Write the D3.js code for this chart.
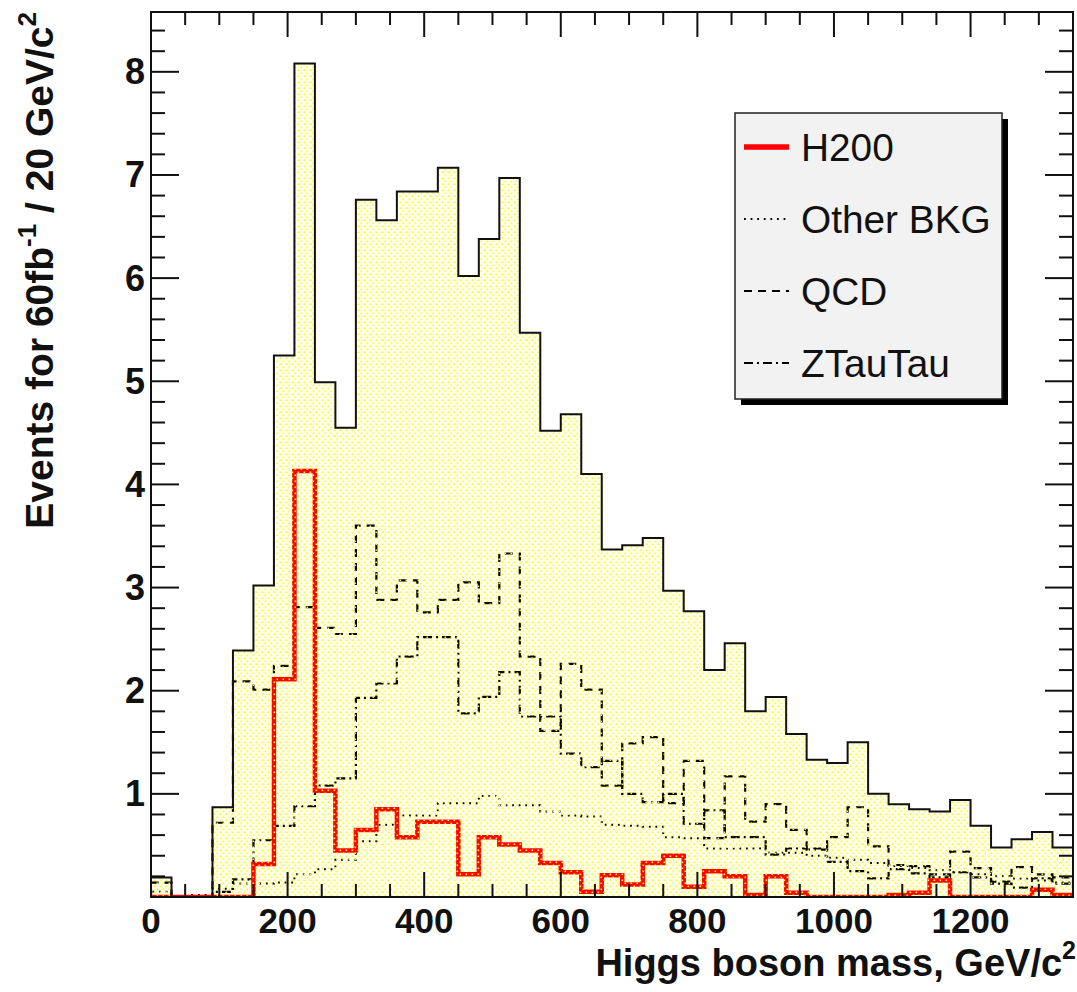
<!DOCTYPE html>
<html>
<head>
<meta charset="utf-8">
<script src="https://cdn.jsdelivr.net/npm/d3@7"></script>
<style>
  html, body { margin: 0; padding: 0; background: #ffffff; }
  svg { display: block; }
</style>
</head>
<body>
<svg id="chart" width="1077" height="992"></svg>
<script>
// Histogram binning (GeV/c^2)
const binLow = 0;
const binWidth = 30;
const nBins = 45;

// Bin contents, events per bin for 60 fb^-1
const total = [0.19, 0, 0, 0.87, 2.39, 3.02, 5.25, 8.08, 4.99, 4.55,
               6.76, 6.56, 6.84, 6.84, 7.07, 6.02, 6.38, 6.97, 5.47, 4.52,
               4.68, 4.10, 3.37, 3.41, 3.48, 2.97, 2.77, 2.20, 2.46, 1.80,
               1.94, 1.58, 1.33, 1.30, 1.50, 1.00, 0.90, 0.85, 0.83, 0.94,
               0.69, 0.48, 0.56, 0.63, 0.48];

const h200 = [0, 0, 0, 0, 0, 0.32, 2.11, 4.13, 1.03, 0.45,
              0.65, 0.85, 0.58, 0.73, 0.73, 0.22, 0.58, 0.51, 0.45, 0.33,
              0.24, 0.05, 0.21, 0.12, 0.33, 0.40, 0.10, 0.25, 0.20, 0.02,
              0.20, 0.04, 0, 0, 0, 0, 0.02, 0.04, 0.16, 0,
              0, 0, 0, 0.07, 0.02];

const otherBkg = [0.05, 0, 0.02, 0.08, 0.13, 0.13, 0.14, 0.22, 0.27, 0.36,
                  0.54, 0.70, 0.79, 0.79, 0.91, 0.91, 0.98, 0.89, 0.89, 0.83,
                  0.79, 0.78, 0.70, 0.69, 0.68, 0.58, 0.57, 0.47, 0.47, 0.47,
                  0.43, 0.43, 0.40, 0.38, 0.36, 0.33, 0.30, 0.28, 0.26, 0.24,
                  0.22, 0.20, 0.18, 0.16, 0.14];

const qcd = [0.14, 0, 0, 0.72, 2.09, 2.01, 2.24, 2.81, 2.61, 2.55,
             3.60, 2.88, 3.07, 2.76, 2.88, 3.05, 2.85, 3.33, 2.33, 1.61,
             2.26, 2.01, 1.08, 1.49, 1.55, 0.91, 1.32, 0.57, 1.17, 0.73,
             0.90, 0.65, 0.47, 0.58, 0.87, 0.49, 0.31, 0.30, 0.22, 0.44,
             0.28, 0.15, 0.29, 0.22, 0.19];

const ztautau = [0, 0, 0, 0.05, 0.17, 0.55, 0.69, 0.88, 1.08, 1.15,
                 1.93, 2.07, 2.33, 2.52, 2.52, 1.78, 1.94, 2.18, 1.75, 1.75,
                 1.39, 1.26, 1.32, 1.00, 0.92, 1.00, 0.71, 0.84, 0.58, 0.58,
                 0.41, 0.47, 0.46, 0.34, 0.25, 0.18, 0.27, 0.23, 0.19, 0.24,
                 0.19, 0.13, 0.09, 0.18, 0.13];

// Axis ticks and labels
const xMajorTicks = [0, 200, 400, 600, 800, 1000, 1200];
const xMinorStep = 50;
const yMajorTicks = [0, 1, 2, 3, 4, 5, 6, 7, 8];
const yMinorStep = 0.2;
const xDomain = [0, 1350];
const yDomain = [0, 8.58];

const legendEntries = [
  { label: "H200", key: "h200" },
  { label: "Other BKG", key: "other" },
  { label: "QCD", key: "qcd" },
  { label: "ZTauTau", key: "ztt" }
];

// Frame geometry
const frame = { left: 151, right: 1073, top: 12, bottom: 897 };

const svg = d3.select("#chart");
const x = d3.scaleLinear().domain(xDomain).range([frame.left, frame.right]);
const y = d3.scaleLinear().domain(yDomain).range([frame.bottom, frame.top]);

const styles = {
  h200:  { stroke: "#ff0000", width: 4.5, dash: null },
  other: { stroke: "#000000", width: 2, dash: "1.8,4.8" },
  qcd:   { stroke: "#000000", width: 2.2, dash: "8,6" },
  ztt:   { stroke: "#000000", width: 2.2, dash: "9,4,2,4" }
};

// Dotted yellow fill pattern
const defs = svg.append("defs");
const pat = defs.append("pattern")
  .attr("id", "dots")
  .attr("patternUnits", "userSpaceOnUse")
  .attr("width", 6).attr("height", 6);
pat.append("rect").attr("x", 0.5).attr("y", 0.5).attr("width", 1.6).attr("height", 1.6).attr("fill", "#ffff00");
pat.append("rect").attr("x", 3.5).attr("y", 3.5).attr("width", 1.6).attr("height", 1.6).attr("fill", "#ffff00");

defs.append("clipPath").attr("id", "plotClip")
  .append("rect")
  .attr("x", frame.left).attr("y", frame.top)
  .attr("width", frame.right - frame.left).attr("height", frame.bottom - frame.top);

// Histogram step points: rise from baseline, one point per bin, back to baseline
function stepPoints(values) {
  const pts = [{ x: binLow, v: 0 }];
  values.forEach((v, i) => pts.push({ x: binLow + i * binWidth, v: v }));
  pts.push({ x: binLow + nBins * binWidth, v: 0 });
  return pts;
}

const line = d3.line()
  .x(d => x(d.x)).y(d => y(d.v))
  .curve(d3.curveStepAfter);

const area = d3.area()
  .x(d => x(d.x)).y0(y(0)).y1(d => y(d.v))
  .curve(d3.curveStepAfter);

const plot = svg.append("g").attr("clip-path", "url(#plotClip)");

// Light background of the filled total
plot.append("path")
  .datum(stepPoints(total))
  .attr("d", area)
  .attr("fill", "#fffff2");

function drawHist(values, st) {
  plot.append("path")
    .datum(stepPoints(values))
    .attr("d", line)
    .attr("fill", "none")
    .attr("stroke", st.stroke)
    .attr("stroke-width", st.width)
    .attr("stroke-dasharray", st.dash)
    .attr("stroke-linejoin", "miter")
    .attr("stroke-linecap", "butt");
}

drawHist(otherBkg, styles.other);
drawHist(ztautau, styles.ztt);
drawHist(qcd, styles.qcd);
drawHist(h200, styles.h200);

// Dot pattern laid over the stack area
plot.append("path")
  .datum(stepPoints(total))
  .attr("d", area)
  .attr("fill", "url(#dots)");

// Total outline
plot.append("path")
  .datum(stepPoints(total))
  .attr("d", line)
  .attr("fill", "none")
  .attr("stroke", "#111")
  .attr("stroke-width", 2);

// Axes
const axisG = svg.append("g").attr("stroke", "#111").attr("stroke-width", 2);
const xMinor = d3.range(xDomain[0], xDomain[1] + 0.001, xMinorStep).filter(v => !xMajorTicks.includes(v));
const yMinor = d3.range(yDomain[0], yDomain[1], yMinorStep).map(v => +v.toFixed(2))
  .filter(v => !yMajorTicks.includes(v));

function tickSet(vals, len, isX) {
  vals.forEach(v => {
    if (isX) {
      axisG.append("line").attr("x1", x(v)).attr("x2", x(v)).attr("y1", frame.bottom).attr("y2", frame.bottom - len);
      axisG.append("line").attr("x1", x(v)).attr("x2", x(v)).attr("y1", frame.top).attr("y2", frame.top + len);
    } else {
      axisG.append("line").attr("y1", y(v)).attr("y2", y(v)).attr("x1", frame.left).attr("x2", frame.left + len);
      axisG.append("line").attr("y1", y(v)).attr("y2", y(v)).attr("x1", frame.right).attr("x2", frame.right - len);
    }
  });
}
tickSet(xMajorTicks, 25, true);
tickSet(xMinor, 13, true);
tickSet(yMajorTicks, 28, false);
tickSet(yMinor, 14, false);

axisG.append("rect")
  .attr("x", frame.left).attr("y", frame.top)
  .attr("width", frame.right - frame.left).attr("height", frame.bottom - frame.top)
  .attr("fill", "none");

// Tick labels
const font = "'Liberation Sans', Arial, Helvetica, sans-serif";
svg.append("g").selectAll("text").data(xMajorTicks).join("text")
  .attr("x", d => x(d)).attr("y", 933)
  .attr("text-anchor", "middle")
  .attr("font-family", font).attr("font-weight", "bold").attr("font-size", 35)
  .attr("fill", "#111")
  .text(d => d);

svg.append("g").selectAll("text").data(yMajorTicks.filter(v => v > 0)).join("text")
  .attr("x", 145).attr("y", d => y(d) + 12.5)
  .attr("text-anchor", "end")
  .attr("font-family", font).attr("font-weight", "bold").attr("font-size", 36)
  .attr("fill", "#111")
  .text(d => d);

// Axis titles
const xTitle = svg.append("text")
  .attr("x", 1076).attr("y", 976)
  .attr("text-anchor", "end")
  .attr("font-family", font).attr("font-weight", "bold").attr("font-size", 38)
  .attr("fill", "#111");
xTitle.append("tspan").text("Higgs boson mass, GeV/c");
xTitle.append("tspan").attr("font-size", 25).attr("dy", -17).text("2");

const yTitle = svg.append("text")
  .attr("transform", "translate(53,12) rotate(-90)")
  .attr("text-anchor", "end")
  .attr("font-family", font).attr("font-weight", "bold").attr("font-size", 39)
  .attr("fill", "#111");
yTitle.append("tspan").text("Events for 60fb");
yTitle.append("tspan").attr("font-size", 26).attr("dy", -17).text("-1");
yTitle.append("tspan").attr("dy", 17).text(" / 20 GeV/c");
yTitle.append("tspan").attr("font-size", 26).attr("dy", -17).text("2");

// Legend
const lg = { x: 735, y: 113, w: 267, h: 286 };
svg.append("rect").attr("x", lg.x + 6).attr("y", lg.y + 6).attr("width", lg.w).attr("height", lg.h).attr("fill", "#000");
svg.append("rect").attr("x", lg.x).attr("y", lg.y).attr("width", lg.w).attr("height", lg.h)
  .attr("fill", "#f2f2f2").attr("stroke", "#222").attr("stroke-width", 1.5);

const entryY = d3.scalePoint().domain(legendEntries.map(d => d.key)).range([147, 363]);
const lgG = svg.append("g");
legendEntries.forEach(e => {
  const st = styles[e.key];
  lgG.append("line")
    .attr("x1", 744).attr("x2", 789)
    .attr("y1", entryY(e.key)).attr("y2", entryY(e.key))
    .attr("stroke", st.stroke)
    .attr("stroke-width", e.key === "h200" ? 5.5 : st.width)
    .attr("stroke-dasharray", st.dash);
  lgG.append("text")
    .attr("x", 801).attr("y", entryY(e.key) + 13.5)
    .attr("font-family", font).attr("font-size", 38.8)
    .attr("fill", "#111")
    .text(e.label);
});
</script>
</body>
</html>
